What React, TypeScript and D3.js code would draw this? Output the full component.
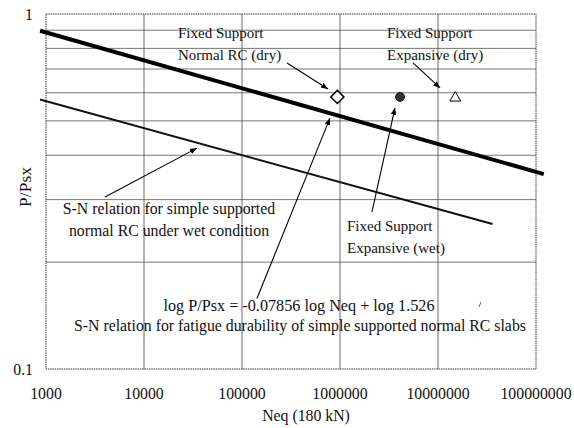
import React from 'react';
import * as d3 from 'd3';

// tick values
const xTicks = [1000, 10000, 100000, 1000000, 10000000, 100000000];
const yGrid = [0.2, 0.3, 0.4, 0.5, 0.6, 0.7, 0.8, 0.9];

// S-N lines (endpoints)
const dryLineN = [870, 120000000];
const dryLineP = [0.897, 0.354];
const wetLineN = [870, 36000000];
const wetLineP = [0.574, 0.256];

// test points
const pointNames = ['Normal RC (dry)', 'Expansive (wet)', 'Expansive (dry)'];
const pointN = [940000, 4100000, 15000000];
const pointP = [0.584, 0.584, 0.584];

// annotation arrows: [from N, from P, to N, to P]
const arrows = [
  [288000, 0.728, 755000, 0.615],
  [5560000, 0.728, 10500000, 0.619],
  [2120000, 0.277, 3640000, 0.544],
  [142000, 0.158, 790000, 0.509],
  [4000, 0.305, 34700, 0.419],
];

const W = 574, H = 428;
const m = { left: 46, right: 536, top: 14, bottom: 369 };
const font = "'Liberation Serif', 'DejaVu Serif', serif";

export default function App() {
  const x = d3.scaleLog().domain([1000, 100000000]).range([m.left, m.right]);
  const y = d3.scaleLog().domain([0.1, 1]).range([m.bottom, m.top]);
  const line = d3.line<[number, number]>().x(d => x(d[0])).y(d => y(d[1]));

  const dry = dryLineN.map((n, i) => [n, dryLineP[i]] as [number, number]);
  const wet = wetLineN.map((n, i) => [n, wetLineP[i]] as [number, number]);

  return (
    <svg width={W} height={H} style={{ position: 'absolute', left: 0, top: 0, background: '#fff', fontFamily: font }}>
      <defs>
        <marker id="ah" viewBox="0 0 10 10" refX="10" refY="5" markerWidth="7" markerHeight="7"
          orient="auto" markerUnits="userSpaceOnUse">
          <path d="M0,1 L10,5 L0,9 z" fill="#000" />
        </marker>
      </defs>
      {/* grid */}
      {yGrid.map(v => (
        <line key={'h' + v} x1={m.left} x2={m.right} y1={y(v)} y2={y(v)} stroke="#777" strokeWidth={1} />
      ))}
      {xTicks.slice(1, -1).map(v => (
        <line key={'v' + v} x1={x(v)} x2={x(v)} y1={m.top} y2={m.bottom} stroke="#444" strokeWidth={0.8} />
      ))}
      {/* frame */}
      <rect x={m.left} y={m.top} width={m.right - m.left} height={m.bottom - m.top}
        fill="none" stroke="#333" strokeWidth={1} strokeDasharray="1.5,0.8" />

      {/* S-N lines */}
      <path d={line(dry) || ''} stroke="#000" strokeWidth={4} fill="none" />
      <path d={line(wet) || ''} stroke="#111" strokeWidth={2} fill="none" />

      {/* points */}
      {pointNames.map((name, i) => {
        const cx = x(pointN[i]), cy = y(pointP[i]);
        if (i === 0) {
          const d = d3.symbol(d3.symbolDiamond2, 110)();
          return <path key={name} d={d || ''} transform={`translate(${cx},${cy})`} fill="#fff" stroke="#000" strokeWidth={1.5} />;
        }
        if (i === 1) {
          return <circle key={name} cx={cx} cy={cy} r={4.5} fill="#333" stroke="#000" strokeWidth={0.8} />;
        }
        const d = d3.symbol(d3.symbolTriangle2, 85)();
        return <path key={name} d={d || ''} transform={`translate(${cx},${cy + 1})`} fill="#fff" stroke="#000" strokeWidth={1} />;
      })}

      {/* arrows */}
      {arrows.map((a, i) => (
        <line key={'a' + i} x1={x(a[0])} y1={y(a[1])} x2={x(a[2])} y2={y(a[3])}
          stroke="#000" strokeWidth={1.1} markerEnd="url(#ah)" />
      ))}

      {/* annotation text */}
      <g fontSize={15} fill="#111">
        <text x={178} y={38}>Fixed Support</text>
        <text x={178} y={60}>Normal RC (dry)</text>
        <text x={387} y={38}>Fixed Support</text>
        <text x={387} y={60}>Expansive (dry)</text>
        <text x={347} y={231}>Fixed Support</text>
        <text x={347} y={253}>Expansive (wet)</text>
      </g>
      <g fontSize={15.8} fill="#111">
        <text x={169} y={214} textAnchor="middle">S-N relation for simple supported</text>
        <text x={169} y={236} textAnchor="middle">normal RC under wet condition</text>
        <text x={299} y={311} textAnchor="middle" fontSize={16.2}>log P/Psx = -0.07856 log Neq + log 1.526</text>
        <text x={300} y={331} textAnchor="middle">S-N relation for fatigue durability of simple supported normal RC slabs</text>
      </g>
      <line x1={479} y1={307} x2={481} y2={302} stroke="#333" strokeWidth={0.8} />

      {/* axes labels */}
      <g fontSize={15.8} fill="#111">
        {xTicks.map(v => (
          <text key={'xt' + v} x={x(v)} y={399} textAnchor="middle">{String(v)}</text>
        ))}
        <text x={33} y={20} textAnchor="end">1</text>
        <text x={33} y={375} textAnchor="end">0.1</text>
        <text x={306} y={421} textAnchor="middle">Neq (180 kN)</text>
        <text transform="translate(31,187) rotate(-90)" textAnchor="middle" fontSize={17.5}>P/Psx</text>
      </g>
    </svg>
  );
}
